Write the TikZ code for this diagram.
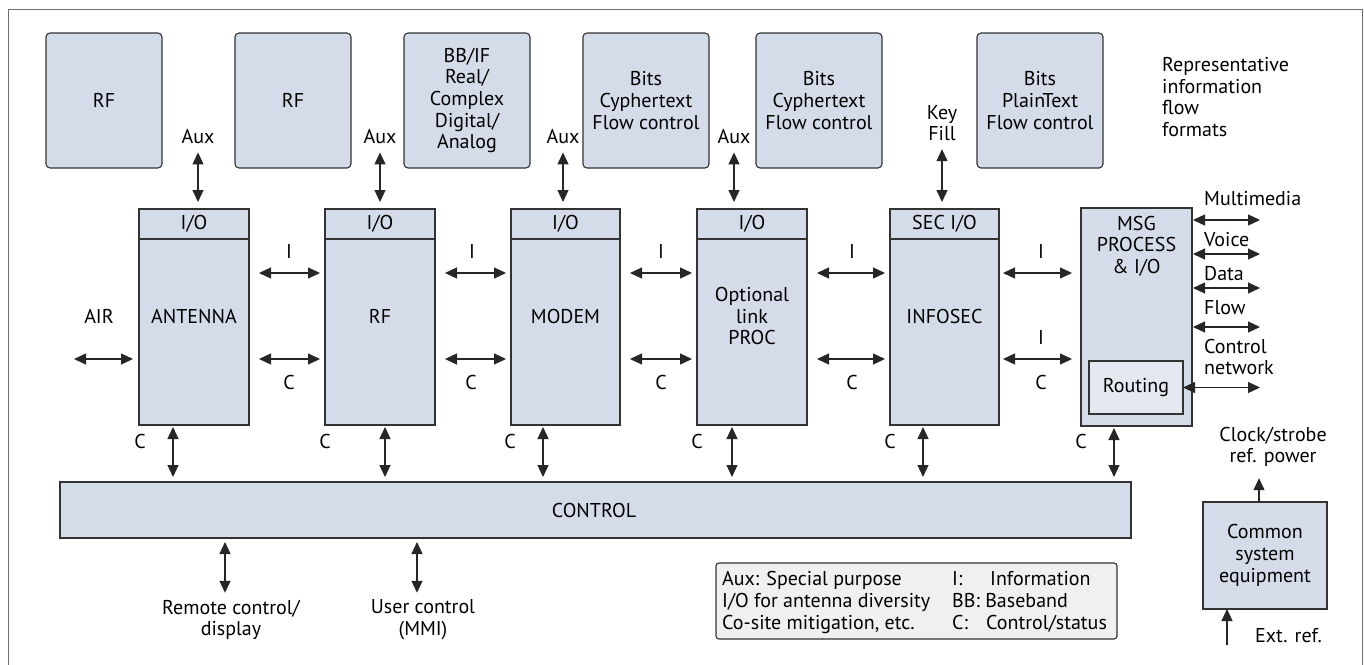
\documentclass[tikz,border=0pt]{standalone}
\usepackage{fontspec}
\setmainfont{PT Sans}
\usetikzlibrary{arrows.meta}
\definecolor{boxfill}{RGB}{213,220,233}
\definecolor{routefill}{RGB}{228,233,241}
\definecolor{legfill}{RGB}{240,240,240}
\definecolor{edgec}{RGB}{50,50,50}
\definecolor{framec}{RGB}{110,110,110}
\newcommand{\dfont}{\fontsize{20}{21.7}\selectfont}
\begin{document}
\begin{tikzpicture}[x=1pt,y=-1pt,
  blk/.style={draw=edgec, line width=1.1pt, fill=boxfill, inner sep=0pt, outer sep=0pt},
  topbox/.style={blk, rounded corners=4pt, minimum width=116pt, minimum height=135pt, align=center, font=\dfont},
  iobox/.style={blk, minimum height=30pt, font=\dfont},
  mainbox/.style={blk, minimum height=186pt},
  lbl/.style={inner sep=0pt, align=center, font=\dfont},
  tip/.tip={Triangle[length=12pt,width=11pt]},
  dbl/.style={tip-tip, line width=1.2pt, draw=black!85},
  sgl/.style={-tip, line width=1.2pt, draw=black!85}]
\useasboundingbox (0,0) rectangle (1364,664);
% frame
\draw[framec, line width=1pt] (8,670) -- (8,9) -- (1362,9) -- (1362,670);

% top info-format boxes
\node[topbox] (t1) at (104,100.5) {RF};
\node[topbox] (t2) at (293,100.5) {RF};
\node[topbox, minimum width=126pt] (t3) at (467,100.5) {BB/IF\\Real/\\Complex\\Digital/\\Analog};
\node[topbox, minimum width=126pt] (t4) at (646,100.5) {Bits\\Cyphertext\\Flow control};
\node[topbox, minimum width=126pt] (t5) at (819,100.5) {Bits\\Cyphertext\\Flow control};
\node[topbox, minimum width=126pt] (t6) at (1040,100.5) {Bits\\PlainText\\Flow control};
\node[lbl, anchor=west, align=left] (rep) at (1162,97) {Representative\\information\\flow\\formats};

% blocks
\node[iobox, minimum width=110pt] (antIO) at (194,224) {I/O};
\node[mainbox, minimum width=110pt] (antM) at (194,332) {};
\node[lbl] (antT) at (194,316) {ANTENNA};
\node[iobox, minimum width=110pt] (rfIO) at (380,224) {I/O};
\node[mainbox, minimum width=110pt] (rfM) at (380,332) {};
\node[lbl] (rfT) at (380,316) {RF};
\node[iobox, minimum width=109pt] (modIO) at (565.5,224) {I/O};
\node[mainbox, minimum width=109pt] (modM) at (565.5,332) {};
\node[lbl] (modT) at (565.5,316) {MODEM};
\node[iobox, minimum width=110pt] (optIO) at (752,224) {I/O};
\node[mainbox, minimum width=110pt] (optM) at (752,332) {};
\node[lbl] (optT) at (752,316) {Optional\\link\\PROC};
\node[iobox, minimum width=109pt] (secIO) at (944.5,224) {SEC I/O};
\node[mainbox, minimum width=109pt] (secM) at (944.5,332) {};
\node[lbl] (secT) at (944.5,316) {INFOSEC};
\node[blk, minimum width=111pt, minimum height=218pt] (msg) at (1136.5,317) {};
\node[lbl] (msgT) at (1136.5,246) {MSG\\PROCESS\\\& I/O};
\node[blk, fill=routefill, minimum width=94pt, minimum height=53pt, font=\dfont] (route) at (1136,387.5) {Routing};

% control
\node[blk, minimum width=1071pt, minimum height=56pt] (ctrl) at (595.5,510) {};
\node[lbl] (ctrlT) at (594,510) {CONTROL};

% Aux / Key Fill labels and arrows
\node[lbl] (auxA) at (198,137) {Aux};
\node[lbl] (auxB) at (380,137) {Aux};
\node[lbl] (auxC) at (563,137) {Aux};
\node[lbl] (auxD) at (734,137) {Aux};
\node[lbl] (key) at (942,123) {Key\\Fill};
\draw[dbl, shorten <=8pt, shorten >=7pt] (auxA.south) -- (auxA.south |- antIO.north);
\draw[dbl, shorten <=8pt, shorten >=7pt] (auxB.south) -- (auxB.south |- rfIO.north);
\draw[dbl, shorten <=8pt, shorten >=7pt] (auxC.south) -- (auxC.south |- modIO.north);
\draw[dbl, shorten <=8pt, shorten >=7pt] (auxD.south) -- (auxD.south |- optIO.north);
\draw[dbl, shorten <=8pt, shorten >=7pt] (key.south) -- (key.south |- secIO.north);

% horizontal arrows
\coordinate (hu) at (0,273);
\coordinate (hl) at (0,359);
\coordinate (air) at (74,359);
\node[lbl] (airT) at (99,316) {AIR};
\draw[dbl, shorten >=6pt] (air) -- (antM.west |- hl);
\foreach \a/\b in {antM/rfM, rfM/modM, modM/optM, optM/secM}{
  \draw[dbl, shorten <=10pt, shorten >=5pt] (\a.east |- hu) -- (\b.west |- hu);
  \draw[dbl, shorten <=10pt, shorten >=5pt] (\a.east |- hl) -- (\b.west |- hl);
}
\draw[dbl, shorten <=4pt, shorten >=9pt] (secM.east |- hu) -- (msg.west |- hu);
\draw[dbl, shorten <=4pt, shorten >=9pt] (secM.east |- hl) -- (msg.west |- hl);
\node[lbl] (i1) at (289,251) {I};
\node[lbl] (i2) at (472,251) {I};
\node[lbl] (i3) at (661,251) {I};
\node[lbl] (i4) at (852,251) {I};
\node[lbl] (i5) at (1041,251) {I};
\node[lbl] (i6) at (1041,337) {I};
\node[lbl] (c1) at (289,382) {C};
\node[lbl] (c2) at (471,382) {C};
\node[lbl] (c3) at (661,382) {C};
\node[lbl] (c4) at (852,382) {C};
\node[lbl] (c5) at (1041,382) {C};

% vertical control arrows
\foreach \n/\x/\cx/\bl in {antM/173/140/a, rfM/385/325/b, modM/543/510/c, optM/732/697/d, secM/923/890/e, msg/1114/1081/f}{
  \coordinate (v\bl) at (\x,0);
  \draw[dbl, shorten <=2pt, shorten >=5pt] (v\bl |- \n.south) -- (v\bl |- ctrl.north);
  \node[lbl] (cc\bl) at (\cx,441) {C};
}

% side arrows of MSG
\coordinate (se) at (1260,0);
\foreach \y/\nm in {220/s1, 254/s2, 288/s3, 327/s4}{
  \coordinate (\nm) at (0,\y);
  \draw[dbl, shorten <=1pt] (msg.east |- \nm) -- (se |- \nm);
}
\draw[dbl] (route.east) -- (se |- route.east);
\node[lbl, anchor=west] (mm) at (1204,199) {Multimedia};
\node[lbl, anchor=west] (vo) at (1204,240) {Voice};
\node[lbl, anchor=west] (da) at (1204,274) {Data};
\node[lbl, anchor=west] (fl) at (1204,308) {Flow};
\node[lbl, anchor=west, align=left] (cn) at (1204,357) {Control\\network};

% remote / user control
\node[lbl] (rem) at (231,620) {Remote control/\\display};
\node[lbl] (usr) at (423,620) {User control\\(MMI)};
\coordinate (xr) at (225,0);
\coordinate (xu) at (417,0);
\draw[dbl, shorten <=4pt, shorten >=7pt] (xr |- ctrl.south) -- (xr |- rem.north);
\draw[dbl, shorten <=4pt, shorten >=7pt] (xu |- ctrl.south) -- (xu |- usr.north);

% common system equipment
\node[blk, minimum width=124pt, minimum height=107pt, align=center, font=\dfont] (com) at (1265,555.5) {Common\\system\\equipment};
\node[lbl] (clk) at (1273,447) {Clock/strobe\\ref. power};
\coordinate (xc) at (1259,0);
\draw[sgl, shorten >=11pt] (xc |- com.north) -- (xc |- clk.south);
\coordinate (ext) at (1227,645);
\draw[sgl] (ext) -- (ext |- com.south);
\node[lbl, anchor=west] (extT) at (1255,636) {Ext. ref.};

% legend
\node[draw=edgec, line width=1.1pt, fill=legfill, rounded corners=3pt, minimum width=401pt, minimum height=76pt, inner sep=0pt] (leg) at (916.5,601) {};
\node[lbl, anchor=base west] (lg1a) at (722,585) {Aux: Special purpose};
\node[lbl, anchor=base west] (lg1b) at (722,607) {I/O for antenna diversity};
\node[lbl, anchor=base west] (lg1c) at (722,629) {Co-site mitigation, etc.};
\node[lbl, anchor=base west] (lg2) at (952,585) {I:};
\node[lbl, anchor=base west] (lg3) at (990,585) {Information};
\node[lbl, anchor=base west] (lg4) at (952,607) {BB: Baseband};
\node[lbl, anchor=base west] (lg5) at (952,629) {C:};
\node[lbl, anchor=base west] (lg6) at (986,629) {Control/status};
\end{tikzpicture}
\end{document}
